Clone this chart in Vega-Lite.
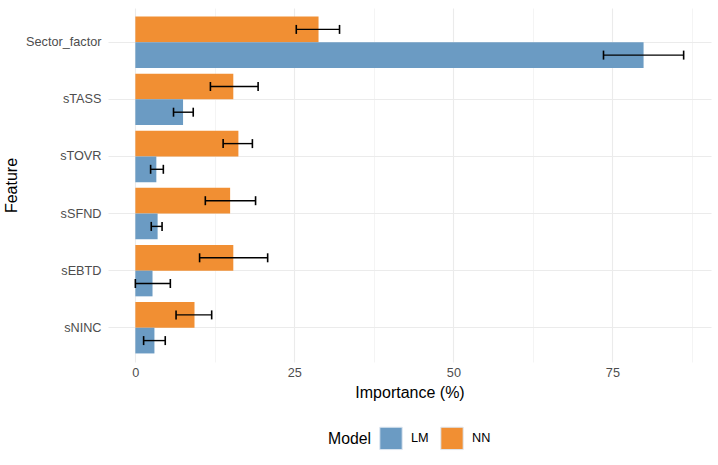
{
  "$schema": "https://vega.github.io/schema/vega-lite/v6.json",
  "width": 603,
  "height": 354,
  "autosize": {"type": "none"},
  "padding": {"left": 108, "top": 8, "right": 7, "bottom": 103},
  "background": "white",
  "config": {
    "font": "Liberation Sans",
    "view": {"stroke": null},
    "axis": {"domain": false, "ticks": false, "labelFont": "Liberation Sans", "titleFont": "Liberation Sans", "labelFontSize": 12.7, "labelColor": "#4d4d4d", "titleFontSize": 16, "titleFontWeight": "normal", "titleColor": "black", "gridColor": "#ebebeb", "gridWidth": 1.1},
    "legend": {"orient": "bottom", "direction": "horizontal", "titleOrient": "left", "titleFontSize": 15.8, "titleFontWeight": "normal", "titleColor": "black", "labelFontSize": 12.7, "labelColor": "black", "symbolType": "square", "symbolSize": 500, "symbolStrokeWidth": 1, "symbolStrokeColor": "#dde6f0", "symbolOpacity": 1, "labelOffset": 8, "columnPadding": 9, "titlePadding": 7, "offset": 25, "layout": {"bottom": {"anchor": "middle"}}}
  },
  "data": {
    "values": [
      {"feature": "Sector_factor", "model": "NN", "importance": 28.8, "lo": 25.3, "hi": 32.1},
      {"feature": "Sector_factor", "model": "LM", "importance": 79.9, "lo": 73.6, "hi": 86.2},
      {"feature": "sTASS", "model": "NN", "importance": 15.4, "lo": 11.8, "hi": 19.3},
      {"feature": "sTASS", "model": "LM", "importance": 7.5, "lo": 6.0, "hi": 9.1},
      {"feature": "sTOVR", "model": "NN", "importance": 16.2, "lo": 13.8, "hi": 18.4},
      {"feature": "sTOVR", "model": "LM", "importance": 3.3, "lo": 2.4, "hi": 4.4},
      {"feature": "sSFND", "model": "NN", "importance": 14.9, "lo": 11.0, "hi": 18.9},
      {"feature": "sSFND", "model": "LM", "importance": 3.5, "lo": 2.5, "hi": 4.2},
      {"feature": "sEBTD", "model": "NN", "importance": 15.4, "lo": 10.1, "hi": 20.8},
      {"feature": "sEBTD", "model": "LM", "importance": 2.7, "lo": 0.0, "hi": 5.5},
      {"feature": "sNINC", "model": "NN", "importance": 9.3, "lo": 6.4, "hi": 12.0},
      {"feature": "sNINC", "model": "LM", "importance": 3.0, "lo": 1.3, "hi": 4.7}
    ]
  },
  "encoding": {
    "y": {"field": "feature", "type": "nominal", "sort": ["Sector_factor", "sTASS", "sTOVR", "sSFND", "sEBTD", "sNINC"], "scale": {"paddingInner": 0.1, "paddingOuter": 0.15}, "axis": {"title": "Feature", "labelPadding": 7, "titlePadding": 6, "grid": true}},
    "yOffset": {"field": "model", "sort": ["NN", "LM"], "scale": {"paddingInner": 0, "paddingOuter": 0}}
  },
  "layer": [
    {
      "mark": {"type": "bar"},
      "encoding": {
        "x": {"field": "importance", "type": "quantitative", "scale": {"domain": [-4.3, 90.5], "nice": false, "zero": false}, "axis": {"title": "Importance (%)", "values": [0, 25, 50, 75], "labelPadding": 4, "titlePadding": 6, "grid": true}},
        "x2": {"datum": 0},
        "color": {"field": "model", "type": "nominal", "sort": ["LM", "NN"], "scale": {"domain": ["LM", "NN"], "range": ["#6b9bc3", "#f18f33"]}, "legend": {"title": "Model"}}
      }
    },
    {
      "mark": {"type": "rule", "color": "black", "strokeWidth": 1.4},
      "encoding": {
        "x": {"field": "lo", "type": "quantitative", "axis": null},
        "x2": {"field": "hi"}
      }
    },
    {
      "mark": {"type": "tick", "color": "black", "thickness": 1.6, "size": 9, "opacity": 1},
      "encoding": {
        "x": {"field": "lo", "type": "quantitative", "axis": {"orient": "top", "values": [12.5, 37.5, 62.5, 87.5], "labels": false, "title": null, "grid": true, "gridWidth": 0.55}}
      }
    },
    {
      "mark": {"type": "tick", "color": "black", "thickness": 1.6, "size": 9, "opacity": 1},
      "encoding": {
        "x": {"field": "hi", "type": "quantitative", "axis": null}
      }
    }
  ],
  "resolve": {"axis": {"x": "independent"}}
}
